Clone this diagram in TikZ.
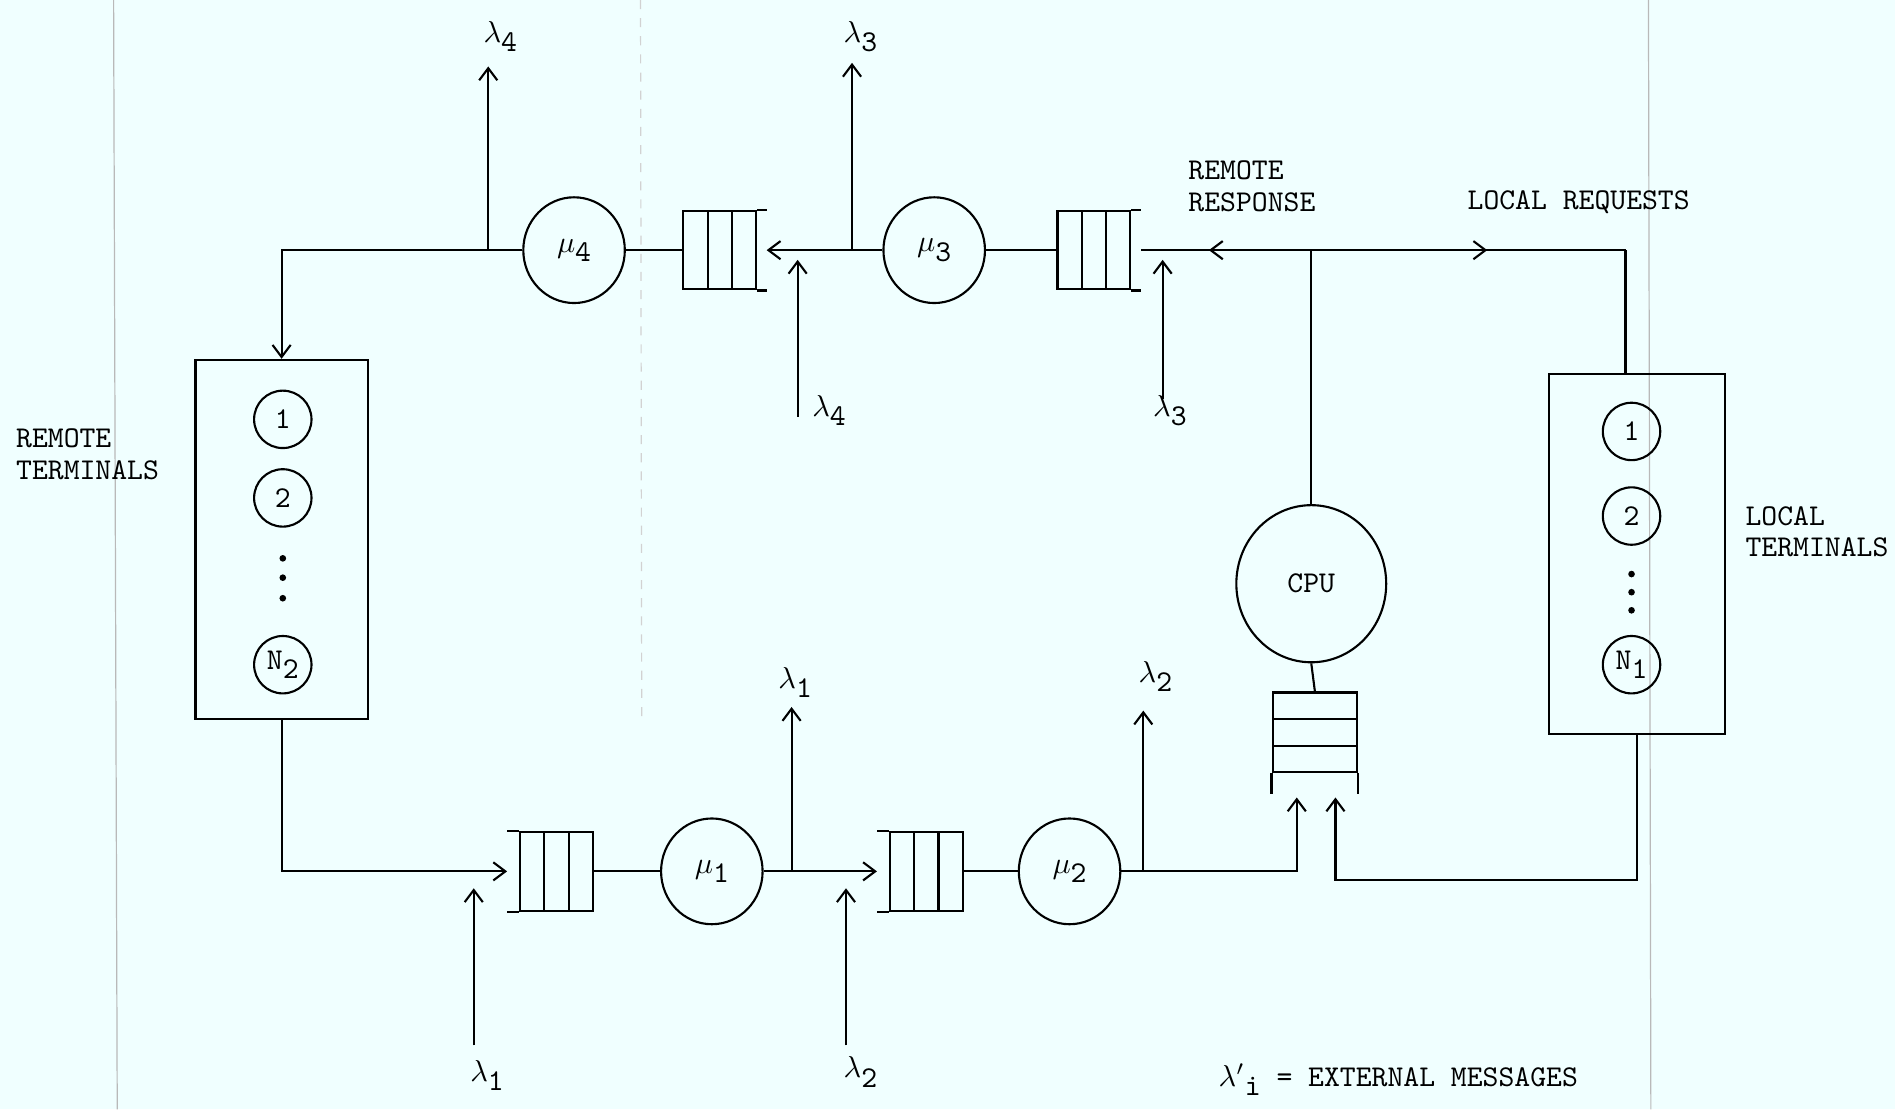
\documentclass[tikz,border=0pt]{standalone}
\usetikzlibrary{shapes.geometric,calc,arrows.meta,decorations.markings}

\definecolor{paper}{RGB}{240,255,255}
\newcommand{\tsub}[2]{#1\raisebox{-.7ex}{#2}}

\tikzset{
  server/.style={draw, ellipse, minimum width=33.6pt, minimum height=35pt, inner sep=0pt},
  term/.style={draw, circle, minimum size=19pt, inner sep=0pt},
  termbox/.style={draw, minimum width=57pt, minimum height=119pt},
  hqueue/.style={draw, minimum width=24pt, minimum height=26pt, inner sep=0pt,
    path picture={\foreach \f in {0.333,0.667}
      \draw ($(path picture bounding box.north west)!\f!(path picture bounding box.north east)$)
         -- ($(path picture bounding box.south west)!\f!(path picture bounding box.south east)$);}},
  vqueue/.style={draw, minimum width=28pt, minimum height=26.4pt, inner sep=0pt,
    path picture={\foreach \f in {0.333,0.667}
      \draw ($(path picture bounding box.north west)!\f!(path picture bounding box.south west)$)
         -- ($(path picture bounding box.north east)!\f!(path picture bounding box.south east)$);}},
  lbl/.style={inner sep=1pt, align=left, font={\ttfamily\fontsize{10}{10.4}\selectfont}},
  midarrow/.style={postaction=decorate,
    decoration={markings, mark=at position #1 with {\arrow{>}}}},
  scanline/.style={gray!55, line width=0.4pt}
}

\begin{document}
\begin{tikzpicture}[x=0.4pt, y=-0.4pt, line width=0.7pt,
    >={Straight Barb[length=4pt,width=6pt]}, font=\ttfamily]
  \fill[paper] (0,0) rectangle (1568,918);
  \useasboundingbox (0,0) rectangle (1568,918);
  % page margins of the scan
  \draw[scanline] (94,0) -- (97,918);
  \draw[scanline] (1364,0) -- (1366,918);
  \draw[scanline, dashed, gray!35] (530,0) -- (531,600);

  % terminals
  \node[termbox] (remote) at (233,446.5) {};
  \node[term] (r1) at (234,347) {1};
  \node[term] (r2) at (234,412) {2};
  \node[term] (rn) at (234,550) {\tsub{N}{2}};
  \foreach \y in {462,478,495} \fill (234,\y) circle (1.1pt);
  \node[termbox, minimum width=58pt] (locbox) at (1354.5,458.5) {};
  \node[term] (l1) at (1350,357) {1};
  \node[term] (l2) at (1350,427) {2};
  \node[term] (ln) at (1350,550) {\tsub{N}{1}};
  \foreach \y in {475,490,505} \fill (1350,\y) circle (1.1pt);

  % servers and queues
  \node[server] (mu4) at (475,207) {\tsub{$\mu$}{4}};
  \node[hqueue] (q4) at (595.5,207) {};
  \node[server] (mu3) at (773,207) {\tsub{$\mu$}{3}};
  \node[hqueue] (q3) at (905,207) {};
  \node[hqueue] (q1) at (460.5,721) {};
  \node[server] (mu1) at (589,721) {\tsub{$\mu$}{1}};
  \node[hqueue] (q2) at (766.5,721) {};
  \node[server] (mu2) at (885,721) {\tsub{$\mu$}{2}};
  \node[draw, ellipse, minimum width=49.6pt, minimum height=52pt] (cpu) at (1085,483) {CPU};
  \node[vqueue] (cq) at (1088,606) {};
  \foreach \q in {q3,q4}
    \draw (\q.north east) -- ++(8,0) (\q.south east) -- ++(8,0);
  \foreach \q in {q1,q2}
    \draw (\q.north west) -- ++(-10,0) (\q.south west) -- ++(-10,0);
  \draw (cq.south west) -- ++(0,17) (cq.south east) -- ++(0,17);

  % junctions and free ends
  \coordinate (j4) at (404,207);
  \coordinate (l4out) at (404,55);
  \coordinate (j3) at (705,207);
  \coordinate (l3out) at (705,52);
  \coordinate (l4inA) at (660,345);
  \coordinate (l4inB) at (660,215);
  \coordinate (l3inA) at (962,330);
  \coordinate (l3inB) at (962,215);
  \coordinate (jcpu) at (1085,207);
  \coordinate (jlr) at (1345,207);
  \coordinate (l1inA) at (392,865);
  \coordinate (l1inB) at (392,735);
  \coordinate (j1) at (655,721);
  \coordinate (l1out) at (655,585);
  \coordinate (l2inA) at (700,865);
  \coordinate (l2inB) at (700,735);
  \coordinate (j2) at (946,721);
  \coordinate (l2out) at (946,588);

  % top line
  \draw[->] (mu4.west) -| (remote.north);
  \draw[->] (j4) -- (l4out);
  \draw (q4.west) -- (mu4.east);
  \draw[->] (j3) -- ($(q4.east)+(8,0)$);
  \draw (mu3.west) -- (j3);
  \draw[->] (j3) -- (l3out);
  \draw[->] (l4inA) -- (l4inB);
  \draw (q3.west) -- (mu3.east);
  \draw[->] (l3inA) -- (l3inB);
  \draw[midarrow=0.6] (jcpu) -- ($(q3.east)+(8,0)$);
  \draw (cpu.north) -- (jcpu);
  \draw[midarrow=0.56] (jcpu) -- (jlr);
  \draw (jlr) -- (jlr |- locbox.north);
  \draw (cpu.south) -- (cq.north);

  % bottom line
  \draw[->] (remote.south) |- ($(q1.west)+(-10,0)$);
  \draw[->] (l1inA) -- (l1inB);
  \draw (q1.east) -- (mu1.west);
  \draw[->] (mu1.east) -- ($(q2.west)+(-10,0)$);
  \draw[->] (j1) -- (l1out);
  \draw[->] (l2inA) -- (l2inB);
  \draw (q2.east) -- (mu2.west);
  \draw (mu2.east) -- (j2);
  \draw[->] (j2) -- (l2out);
  \draw[->] (j2) -| ($(cq.south)+(-15,20)$);
  \draw[->] (locbox.south) |- ($(cq.south)+(17,88)$) -- ($(cq.south)+(17,20)$);

  % labels
  \node[lbl] (t4out) at (414,30) {\tsub{$\lambda$}{4}};
  \node[lbl] (t3out) at (712,30) {\tsub{$\lambda$}{3}};
  \node[lbl] (t4in) at (686,340) {\tsub{$\lambda$}{4}};
  \node[lbl] (t3in) at (968,340) {\tsub{$\lambda$}{3}};
  \node[lbl] (t1out) at (658,565) {\tsub{$\lambda$}{1}};
  \node[lbl] (t2out) at (956,560) {\tsub{$\lambda$}{2}};
  \node[lbl] (t1in) at (403,890) {\tsub{$\lambda$}{1}};
  \node[lbl] (t2in) at (712,887) {\tsub{$\lambda$}{2}};
  \node[lbl, anchor=west] (rresp) at (980,154) {REMOTE\\RESPONSE};
  \node[lbl, anchor=west] (lreq) at (1211,167) {LOCAL REQUESTS};
  \node[lbl, anchor=west] (rterm) at (10,376) {REMOTE\\TERMINALS};
  \node[lbl, anchor=west] (lterm) at (1441,440) {LOCAL\\TERMINALS};
  \node[lbl, anchor=west] (note) at (1005,893) {\tsub{$\lambda'$}{i} = EXTERNAL MESSAGES};
\end{tikzpicture}
\end{document}
